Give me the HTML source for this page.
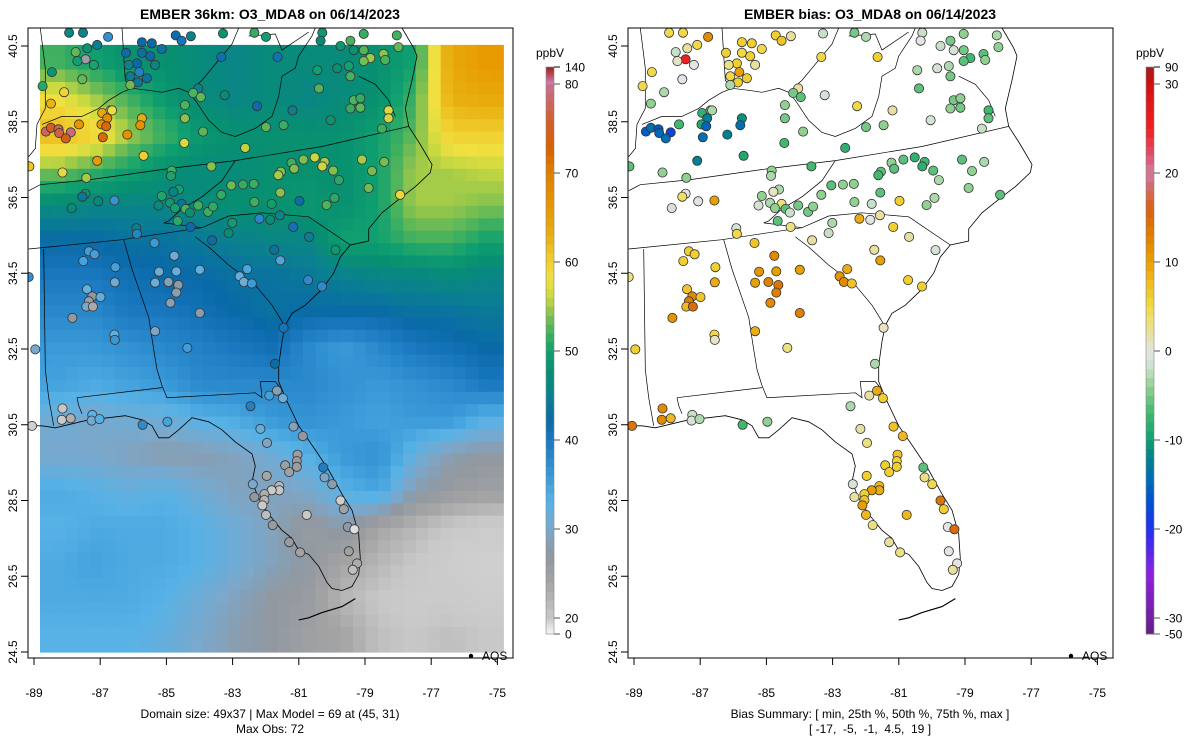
<!DOCTYPE html>
<html><head><meta charset="utf-8"><style>
body{margin:0;background:#fff}
svg{display:block;font-family:"Liberation Sans",sans-serif}
</style></head><body>
<svg id="s" width="1200" height="750" viewBox="0 0 1200 750">
<defs>
<clipPath id="clipL"><rect x="28" y="28" width="485" height="630"/></clipPath>
<clipPath id="clipR"><rect x="628" y="28" width="485" height="630"/></clipPath>
</defs>
<text x="270" y="19" text-anchor="middle" font-weight="bold" font-size="14">EMBER 36km: O3_MDA8 on 06/14/2023</text>
<text x="870" y="19" text-anchor="middle" font-weight="bold" font-size="14">EMBER bias: O3_MDA8 on 06/14/2023</text>
<g id="L"></g>
<g id="R"></g>
<text x="270" y="718" text-anchor="middle" font-size="12">Domain size: 49x37 | Max Model = 69 at (45, 31)</text>
<text x="270" y="733" text-anchor="middle" font-size="12">Max Obs: 72</text>
<text x="870" y="718" text-anchor="middle" font-size="12">Bias Summary: [ min, 25th %, 50th %, 75th %, max ]</text>
<text x="870" y="733" text-anchor="middle" font-size="12" xml:space="preserve">[ -17,  -5,  -1,  4.5,  19 ]</text>
</svg>
<script>
// ---- data ----
const gridLon0=-88.82, gridLon1=-74.82, gridLat0=40.53, gridLat1=24.5;
const modelGrid=[
[52,50,48,48,47,46,47,47,47,48,50,64,66],
[58,55,52,49,47,46,47,46,47,48,52,63,64],
[62,60,55,52,49,48,48,48,48,50,53,60,60],
[54,52,50,48,47,47,48,48,48,50,55,55,56],
[47,46,46,46,47,48,48,49,48,50,55,55,54],
[42,42,43,43,44,45,46,46,50,50,52,52,50],
[40,40,41,42,42,43,43,44,45,46,46,47,46],
[38,38,40,40,41,42,43,42,42,42,43,43,44],
[36,36,37,38,39,40,41,38,36,38,40,41,42],
[35,34,35,36,38,38,38,38,37,36,37,38,40],
[31,30,31,31,33,34,36,37,36,35,36,36,33],
[30,30,29,28,28,29,31,33,36,37,32,28,27],
[34,33,32,33,31,29,29,30,33,35,28,26,25],
[33,34,34,34,33,31,29,26,28,24,22,20,19],
[34,35,34,34,33,31,29,27,24,22,20,18,17],
[34,34,34,33,31,29,27,26,22,20,19,19,18],
[33,33,33,32,30,28,27,25,24,21,20,21,20]];
const stLon=[-87.94,-87.52,-86.76,-87.74,-87.39,-87.09,-87.44,-87.69,-87.19,-88.46,-87.54,-88.74,-88.09,-88.49,-86.22,-85.74,-85.44,-85.14,-85.74,-85.49,-85.89,-86.14,-85.34,-85.82,-86.09,-85.59,-85.86,-86.09,-84.72,-84.54,-84.26,-83.29,-83.34,-82.34,-81.99,-81.64,-80.29,-80.34,-79.74,-79.44,-79.04,-79.34,-79.04,-78.84,-79.04,-79.84,-79.49,-79.44,-80.44,-80.39,-78.44,-78.39,-78.04,-77.99,-79.34,-79.14,-79.44,-79.14,-78.29,-78.29,-78.49,-80.04,-81.19,-81.46,-81.99,-82.26,-83.24,-84.04,-84.19,-83.96,-84.44,-84.44,-83.89,-84.46,-82.62,-86.94,-86.69,-86.79,-86.96,-86.82,-86.64,-85.74,-85.79,-87.64,-88.64,-88.49,-88.26,-88.24,-87.89,-88.04,-86.92,-86.18,-87.09,-85.69,-89.14,-88.14,-87.42,-83.64,-84.84,-84.86,-81.22,-80.86,-80.52,-80.22,-80.29,-81.14,-81.54,-81.62,-79.96,-79.79,-79.09,-78.42,-78.79,-78.89,-77.94,-83.04,-82.69,-82.36,-83.34,-81.56,-82.34,-81.82,-80.98,-79.92,-80.16,-85.14,-84.62,-84.79,-84.89,-84.54,-84.42,-84.74,-84.29,-84.04,-83.74,-83.59,-85.24,-84.66,-84.27,-87.44,-87.54,-87.06,-86.57,-87.86,-85.91,-85.89,-85.36,-82.19,-81.86,-81.57,-83.01,-83.12,-83.62,-81.17,-80.69,-81.74,-81.56,-79.89,-87.34,-87.17,-87.51,-86.54,-86.56,-84.76,-85.22,-84.70,-83.99,-85.34,-84.94,-84.64,-84.70,-84.88,-82.56,-82.79,-82.66,-82.42,-80.72,-80.30,-87.40,-87.24,-87.34,-86.99,-87.42,-87.22,-87.84,-83.99,-86.57,-86.56,-85.34,-84.37,-81.46,-81.72,-88.96,-89.16,-88.14,-88.16,-87.89,-87.24,-87.26,-87.02,-85.72,-84.97,-89.06,-82.46,-81.89,-81.66,-81.48,-81.16,-80.88,-82.16,-81.96,-81.04,-81.06,-81.06,-81.41,-81.29,-80.26,-80.22,-79.99,-81.97,-82.39,-81.59,-81.59,-81.82,-82.04,-82.34,-82.04,-82.10,-81.99,-80.76,-79.74,-79.64,-81.79,-79.52,-79.32,-81.29,-80.96,-79.49,-79.24,-79.37];
const stLat=[40.85,40.85,40.74,40.34,40.44,40.53,40.15,40.10,40.00,39.81,39.62,39.44,39.28,38.98,40.32,40.60,40.57,40.42,40.32,40.23,40.04,40.00,40.00,39.81,39.70,39.65,39.54,39.47,40.78,40.64,40.76,40.83,40.21,40.85,40.74,40.21,40.85,40.64,40.50,40.64,40.82,40.39,40.39,40.18,40.10,39.91,39.97,39.70,39.86,39.38,40.29,40.13,40.78,40.47,39.07,39.12,38.85,38.87,38.80,38.59,38.32,38.54,38.80,38.41,38.36,38.91,39.20,39.38,39.26,39.15,38.94,38.59,38.24,37.94,37.81,38.73,38.80,38.59,38.43,38.38,38.80,38.59,38.41,38.43,38.24,38.34,38.30,38.20,38.22,38.06,38.09,38.16,37.47,37.60,37.32,37.16,37.02,37.32,37.21,37.07,37.42,37.50,37.56,37.44,37.32,37.26,37.18,37.09,37.21,36.96,37.50,37.44,37.20,36.75,36.57,36.82,36.84,36.86,36.57,36.63,36.38,36.33,36.41,36.49,36.30,36.54,36.71,36.65,36.36,36.33,36.20,36.22,36.10,36.29,36.12,36.26,36.29,35.88,35.72,36.60,36.52,36.40,36.42,36.22,35.69,35.54,35.30,35.94,35.91,36.03,35.83,35.56,35.37,35.72,35.46,35.12,34.84,35.11,35.08,35.00,34.82,34.66,34.26,34.96,34.54,34.55,34.59,34.25,34.27,34.19,33.99,33.72,34.61,34.42,34.27,34.23,34.32,34.15,34.08,33.89,33.76,33.87,33.62,33.62,33.32,33.45,32.88,32.74,32.97,32.53,33.06,32.11,32.49,34.40,30.93,30.63,30.67,30.76,30.61,30.65,30.50,30.58,30.47,30.99,31.27,31.40,31.20,30.45,30.20,30.39,30.02,29.71,29.54,29.39,29.43,29.25,29.37,29.11,28.93,29.15,28.93,28.88,28.77,28.77,28.67,28.59,28.51,28.37,28.12,28.12,28.50,28.27,27.85,27.80,27.74,27.40,27.13,27.16,26.84,26.67];
const stBias=[5,5,12,-2,2,5,25,1,0,5,0,5,-3,-4,6,6,6,5,5,6,6,3,2,10,5,6,6,-3,6,7,2,-2,5,-5,-3,6,-2,0,-2,-5,-4,-1,-5,-7,-6,-1,-3,-5,-3,-6,-6,-4,-3,-4,-5,-4,-4,-5,-7,-6,-2,-1,2,-4,-5,5,-1,2,-5,-6,-4,-5,-4,-7,-8,-8,-4,-12,-9,-15,-3,-11,-14,-7,-16,-14,-16,-15,-18,-14,-14,-12,-12,-9,-6,-4,-4,-7,-4,-3,-4,-6,-8,-7,-8,-6,-6,-7,-6,-3,-6,-3,-4,-4,-6,-6,-4,-4,-4,-6,-4,-2,6,-3,-4,-4,-3,1,-3,3,-6,-4,-2,-5,-5,-4,-1,-6,3,0,4,0,10,-1,-1,5,7,9,0,2,-3,-2,2,6,2,2,10,-1,6,6,6,6,9,12,11,10,10,10,13,14,13,12,9,11,12,7,6,6,7,12,13,7,8,15,11,13,5,1,9,3,1,-3,6,3,12,12,8,-2,-1,-3,-7,-4,14,-3,2,9,6,7,8,2,3,7,6,6,6,6,-6,3,5,6,-1,8,9,10,6,2,7,10,8,8,14,6,3,0,15,2,3,0,0,2];
const xTicks=[-89,-87,-85,-83,-81,-79,-77,-75];
const yTicks=[40.5,38.5,36.5,34.5,32.5,30.5,28.5,26.5,24.5];
const obsTicks=[140,80,70,60,50,40,30,20,0];
const biasTicks=[90,30,20,10,0,-10,-20,-30,-50];

// ---- scales ----
const NS='http://www.w3.org/2000/svg';
function xS(lon,p){return p.x0+(lon+89)*33.1;}
function yS(lat){return 46+(40.5-lat)*37.875;}
function mk(tag,at,par){const e=document.createElementNS(NS,tag);for(const k in at)e.setAttribute(k,at[k]);par.appendChild(e);return e;}
function lerpC(stops,v){
  if(v<=stops[0][0])return stops[0][1];
  for(let i=1;i<stops.length;i++){if(v<=stops[i][0]){const a=stops[i-1],b=stops[i];const t=(v-a[0])/(b[0]-a[0]);
    const ca=hex(a[1]),cb=hex(b[1]);return 'rgb('+ca.map((c,j)=>Math.round(c+(cb[j]-c)*t)).join(',')+')';}}
  return stops[stops.length-1][1];}
function hex(h){return [1,3,5].map(i=>parseInt(h.substr(i,2),16));}
const obsStops=[[0,'#f5f5f5'],[10,'#e2e2e2'],[20,'#c8c8c8'],[24,'#a4a4a4'],[27,'#9198a0'],[30,'#7aa8cc'],[33,'#58b2e6'],[36,'#3a9ad8'],[40,'#1a78c0'],[42,'#0a6aa8'],[45,'#0a8090'],[48,'#089070'],[50,'#10a070'],[52,'#40b060'],[54,'#80c050'],[56,'#c8d840'],[58,'#f0e040'],[60,'#f0d030'],[63,'#e8b010'],[66,'#e89a00'],[70,'#e08000'],[73,'#d86000'],[76,'#d06030'],[80,'#c87090'],[84,'#d080b0'],[140,'#a02020']];
const biasStops=[[-50,'#602080'],[-30,'#7020a0'],[-25,'#9020e0'],[-20,'#2030f0'],[-17,'#0050d0'],[-14,'#0070b0'],[-12,'#008090'],[-10,'#10a070'],[-7,'#40b870'],[-4,'#90d090'],[-2,'#c8e0c8'],[0,'#e4e4e4'],[2,'#e8e0a0'],[4,'#f0e060'],[6,'#f0d030'],[8,'#f0b820'],[10,'#e8a000'],[13,'#e08000'],[16,'#d86010'],[19,'#d07080'],[20,'#d080a0'],[22,'#e05070'],[25,'#f02020'],[30,'#d01010'],[90,'#a02020']];
function obsY(v){ if(v<=20)return 634-(v/20)*16; if(v<=80)return 618-(v-20)*8.9; return 84-(v-80)/60*17;}
function biasY(v){ if(v<-30)return 618+(-30-v)/20*16; if(v<=30)return 351-v*8.9; return 84-(v-30)/60*17;}

const cols=modelGrid[0].length, rows=modelGrid.length;
const dLon=(gridLon1-gridLon0)/cols, dLat=(gridLat0-gridLat1)/rows;
function modelSmooth(lon,lat){
  let fc=(lon-gridLon0)/dLon-0.5, fr=(gridLat0-lat)/dLat-0.5;
  fc=Math.max(0,Math.min(cols-1,fc)); fr=Math.max(0,Math.min(rows-1,fr));
  const c0=Math.floor(fc),r0=Math.floor(fr),c1=Math.min(cols-1,c0+1),r1=Math.min(rows-1,r0+1),tc=fc-c0,tr=fr-r0;
  const a=modelGrid[r0][c0]*(1-tc)+modelGrid[r0][c1]*tc, b=modelGrid[r1][c0]*(1-tc)+modelGrid[r1][c1]*tc;
  return a*(1-tr)+b*tr;}

const coast=[[1140,0],[1175,50],[1185,70],[1170,130],[1150,200],[1160,245],[1195,290],[1230,340],[1225,360],[1180,395],[1140,420],[1080,460],[1040,500],[1040,530],[985,540],[955,570],[935,610],[900,650],[850,690],[810,710],[790,740],[780,780],[770,840],[770,880],[790,920],[830,990],[880,1050],[920,1100],[960,1160],[990,1200],[1010,1260],[1015,1320],[1010,1360],[990,1390],[960,1400],[930,1395],[915,1380],[890,1340],[860,1310],[830,1300],[810,1270],[780,1250],[740,1210],[710,1170],[690,1130],[700,1090],[690,1060],[640,1030],[600,1000],[560,980],[510,970],[470,1000],[440,1020],[410,1020],[390,990],[360,975],[310,965],[260,970],[200,975],[150,985],[100,995],[60,990],[20,990]];
const keys=[[1000,1420],[960,1440],[900,1455],[860,1468],[830,1473]];
const borders=[
[[20,405],[55,390],[200,378],[440,350],[640,330],[900,295],[1160,245]],
[[20,550],[300,527],[540,497]],
[[640,330],[600,380],[540,420],[480,450],[440,480],[425,485],[540,497],[620,468],[720,460],[860,470],[985,540]],
[[520,520],[560,545],[620,590],[700,640],[750,690],[780,730],[785,740]],
[[305,527],[330,600],[380,720],[395,800],[405,850],[420,890],[435,920],[700,908],[720,920],[715,880],[760,880],[780,900]],
[[165,920],[420,895]],[[165,920],[170,940],[180,960]],
[[65,550],[70,850],[80,920],[95,990]],
[[55,0],[70,100],[70,200],[45,240],[40,300],[20,320]],
[[60,240],[120,220],[180,220],[230,200],[260,180],[300,160],[330,150],[380,155],[420,160],[470,150],[500,160],[520,180],[560,230],[600,260],[640,270],[700,250],[750,220],[770,170],[780,120],[820,100],[830,70],[870,20],[880,0]],
[[300,0],[310,130],[330,150]],
[[500,160],[540,130],[570,100],[600,70],[630,40],[650,0]],
[[680,20],[760,15],[780,55],[860,10]],
[[1010,120],[1060,140],[1100,180],[1120,220]]];
function pts(arr,off){return arr.map(p=>((622+p[0]/3-off).toFixed(1)+','+(28+p[1]*0.4018).toFixed(1))).join(' ');}

function panel(g,p,clip,isBias){
  const inner=mk('g',{'clip-path':'url(#'+clip+')'},g);
  if(!isBias){
    const hm=mk('g',{},inner);
    
    
    const FC=37, FR=49, fl=(gridLon1-gridLon0)/FC, ft=(gridLat0-gridLat1)/FR;
    for(let r=0;r<FR;r++)for(let c=0;c<FC;c++){
      const lon=gridLon0+(c+0.5)*fl, lat=gridLat0-(r+0.5)*ft;
      const x0=xS(gridLon0+c*fl,p),x1=xS(gridLon0+(c+1)*fl,p),y0=yS(gridLat0-r*ft),y1=yS(gridLat0-(r+1)*ft);
      const cell=mk('rect',{x:x0.toFixed(1),y:y0.toFixed(1),width:(x1-x0+0.6).toFixed(1),height:(y1-y0+0.6).toFixed(1),fill:lerpC(obsStops,modelSmooth(lon,lat))},hm);
      
      
    }
  }
  const ol=mk('g',{fill:'none',stroke:'#000','stroke-width':0.8},inner);
  
  
  mk('polyline',{points:pts(coast,p.off)},ol);
  mk('polyline',{points:pts(keys,p.off),'stroke-width':1.2},ol);
  borders.forEach(b=>mk('polyline',{points:pts(b,p.off),'stroke-width':0.7},ol));
  const dg=mk('g',{},inner);
  
  
  for(let i=0;i<stLon.length;i++){
    const v=isBias?stBias[i]:modelSmooth(stLon[i],stLat[i])-stBias[i];
    const d=mk('circle',{cx:xS(stLon[i],p).toFixed(1),cy:yS(stLat[i]).toFixed(1),r:4.6,fill:lerpC(isBias?biasStops:obsStops,v),stroke:'#333','stroke-width':0.8},dg);
    
    
  }
  const fr=mk('rect',{x:p.fx,y:28,width:485,height:630,fill:'none',stroke:'#000','stroke-width':1},g);
  
  
  const ax=mk('g',{'font-size':12},g);
  
  
  xTicks.forEach(t=>{const x=xS(t,p);mk('line',{x1:x,x2:x,y1:658,y2:665,stroke:'#000'},ax);
    const tx=mk('text',{x:x,y:697,'text-anchor':'middle'},ax);tx.textContent=t;});
  const ay=mk('g',{'font-size':12},g);
  
  
  yTicks.forEach(t=>{const y=yS(t);mk('line',{x1:p.fx-7,x2:p.fx,y1:y,y2:y,stroke:'#000'},ay);
    const tx=mk('text',{x:p.fx-11,y:y,'text-anchor':'middle',transform:'rotate(-90 '+(p.fx-11)+' '+y+')'},ay);tx.textContent=t.toFixed(1);});
  const lg=mk('g',{},g);
  
  
  mk('circle',{cx:p.fx+443,cy:656,r:2.2,fill:'#000'},lg);
  const lt=mk('text',{x:p.fx+454,y:660,'font-size':12},lg);lt.textContent='AQS';
  const cb=mk('g',{},g);
  
  
  const bx=p.fx+518, stops=isBias?biasStops:obsStops, yf=isBias?biasY:obsY;
  const lo=stops[0][0], hi=stops[stops.length-1][0];
  for(let k=0;k<140;k++){const v0=lo+(hi-lo)*k/140,v1=lo+(hi-lo)*(k+1)/140;const ya=yf(v1),yb=yf(v0);
    mk('rect',{x:bx,y:ya.toFixed(2),width:8,height:(yb-ya+0.4).toFixed(2),fill:lerpC(stops,(v0+v1)/2)},cb);}
  mk('rect',{x:bx,y:yf(hi),width:8,height:yf(lo)-yf(hi),fill:'none',stroke:'#888','stroke-width':0.6},cb);
  (isBias?biasTicks:obsTicks).forEach(t=>{const y=yf(t);mk('line',{x1:bx+8,x2:bx+14,y1:y,y2:y,stroke:t===hi?'#000':'#555'},cb);
    const tx=mk('text',{x:bx+19,y:y+4.5,'font-size':12},cb);tx.textContent=t;});
  const ut=mk('text',{x:bx+4,y:57,'font-size':12,'text-anchor':'middle'},cb);ut.textContent='ppbV';
}
panel(document.getElementById('L'),{x0:34,fx:28,off:600},'clipL',false);
panel(document.getElementById('R'),{x0:634,fx:628,off:0},'clipR',true);
</script>
</body></html>
